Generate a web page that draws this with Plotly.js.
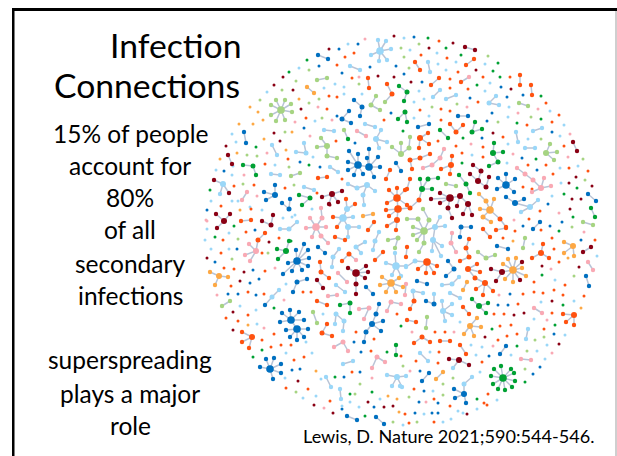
<!DOCTYPE html>
<html><head><meta charset="utf-8">
<script src="https://cdn.plot.ly/plotly-3.0.1.min.js"></script>
<style>html,body{margin:0;padding:0;background:#fff;overflow:hidden}</style>
</head><body><div id="chart" style="width:617px;height:456px"></div>
<script>
const blueClusters=[[318,55,328,59],[354,100,362,107],[362,107,360,116],[349,111,342,119],[342,119,351,123],[244,132,246,143],
[358,165,349,151,358,154,348,162,348,170,354,175,363,174,369,167],[369,167,369,149,367,158,378,157,380,167,374,177],
[275,195,275,185,264,192,266,200],[289,209,290,199,282,203],[396,163,401,171],[297,261,296,250,304,244,308,250,309,258,308,266,302,270,292,271,283,274,288,263],
[318,247,325,253],[307,279,297,282],[297,282,293,292],[291,320,290,310,282,313,280,322,299,312,304,320,297,329],[297,329,286,330,290,337,297,340,304,337,308,329],
[270,369,266,359,274,358,281,364,281,373,273,379,260,367],[366,287,373,294],[372,324,376,314,381,331,366,332,383,321],[376,314,379,304],[366,332,364,342],
[347,416,357,420],[376,417,384,424],[458,116,468,116],[418,127,429,124],[506,185,506,174,515,179,498,178,497,189,514,192],[515,203,506,197,524,199],[588,194,596,201],
[461,227,471,227,460,237],[540,222,533,229],[497,246,508,249],[586,276,589,286],[454,269,448,261,446,276],[417,281,427,284],[434,304,426,301],[506,346,500,354],[429,373,422,381],
[464,394,454,389,455,398,466,403],[265,305]];
const lightBlueClusters=[[380,51,378,40,386,41,391,49,387,60,379,61,371,55],[350,66,360,70],[365,124,375,127],[324,130,334,131],[376,139,381,130,379,148,387,142],
[296,152,306,153],[306,153,304,143],[272,145,277,155],[271,174,280,175],[330,167,338,172],[223,184,214,180,229,193,220,194],[304,187,314,190],[348,184,357,188],[357,188,367,185],
[367,185,375,191,363,195],[363,195,364,205],[343,218,353,217,347,209,348,227],[348,227,359,227,348,237],[289,229,297,222,280,229],[339,249,333,257],[333,257,332,267],[279,290,272,297],[272,297,265,305],
[336,314,335,324,344,321],[344,321,343,331],[336,285,345,292],[356,247,365,242,361,253],[379,232,375,241],[375,241,373,250],[396,266,386,263,395,253,406,266,401,276,392,275],[353,361,343,364],
[397,377,387,375,406,376,392,386,402,387],[326,377,331,387],[340,389,341,399],[428,62,430,72],[440,90,433,97],[456,95,446,99],[489,103,496,96,499,105],[516,132,518,142],[542,128,533,131],[525,148,535,148],
[530,207,538,200,521,212,515,203],[435,227,445,226,440,217,433,240],[433,240,432,251,442,246,441,256],[415,261,406,267,427,262],[452,284,459,277,442,285],[413,291,423,293,414,301],[434,294,434,304],[450,293,460,298],
[443,311,442,301,452,304,452,315,445,321],[528,329,526,339],[420,353,428,361],[453,368,459,360],[472,377,464,384],[464,384,464,394],[400,386]];
const orangeRedClusters=[[318,178,327,177],[368,78,369,88],[387,84,392,94],[392,94,385,102],[397,198,389,190,397,188,405,190,387,203,407,205,398,209],[398,209,386,210,389,216,397,220,410,208],[397,220,387,226,396,230],
[390,170,386,179],[241,221,251,220],[355,204,347,209],[346,199,347,209],[337,227,343,218],[333,217,343,218],[368,230,374,222],[335,237,345,240],[407,247,406,257],[258,240,265,233,256,251],[320,262,321,272],[321,272,329,278],
[317,301,327,305],[322,333,327,324,332,336],[252,337,242,332,242,342,249,348],[349,254,342,261,356,260],[383,252,375,260],[415,62,420,70],[474,59,466,65],[439,78,431,85],[461,82],[520,75,520,85],[531,85,532,95],
[456,132,450,124,463,125],[420,138,428,133,429,144,419,148],[420,158,410,160,430,154],[410,160,412,169],[451,165,452,156,441,169,450,174],[410,179,407,189],[410,208,419,200],[469,239,466,248],[466,248,469,257],[469,257,460,261],
[483,229,490,237],[496,230,506,228],[541,253,543,244,532,258,549,258],[427,262,418,269,426,273,434,273,437,266],[468,269,477,264,480,272,475,278],[475,278,485,283],[485,283,476,289,483,295,493,291],
[414,301,410,309],[463,307,469,314],[574,315,563,314,566,322,574,325],[407,320,416,322],[422,337,414,343,430,342],[440,341,450,341],[460,345,466,354],[500,219,506,227]];
const darkRedClusters=[[228,155,232,164],[224,221,216,214,230,214,217,228],[332,194,322,197,342,191,338,202,329,204],[262,221,271,225],[271,225,273,215],[214,180],[229,193],[317,280,323,288],
[356,273,348,268,366,266,368,272,365,278,356,284],[356,284,356,294],[465,47,475,50],[473,165,481,171],[481,171,478,181],[470,174,478,181],[478,181,486,187],[489,177,486,187],
[450,198,440,193,431,199,440,203,460,196,448,208],[460,196,468,204,457,206],[468,204,472,215,463,214],[448,208,452,218],[573,142,577,151],[591,247,583,252],[502,272,491,269,496,281,513,270],[522,262,513,270],[520,280],
[449,359,459,360],[459,360,469,365]];
const greenClusters=[[399,86,407,92],[407,92,404,101],[405,112,398,119,407,122],[348,139],[243,165,253,166],[253,166,256,175],[310,198,299,195,302,205],[286,251,289,241,277,249,278,259],[340,305,350,303],[350,303,350,313],
[396,345,396,355],[472,132,475,122,482,129],[440,130,448,138],[493,153,494,143,503,152,498,162],[498,162,489,166],[459,175,466,184],[466,184,470,193],[422,189,420,179,428,179,432,189,419,200],[428,179,438,178],
[591,208,595,217],[479,306,472,299,488,303,486,313],[503,378,494,369,501,366,511,369,514,373,515,381,512,387,505,390,498,389,493,384,491,376]];
const lightGreenClusters=[[281,110,276,100,285,100,291,104,292,112,285,120,276,121,271,115,271,105],[317,80,327,78],[371,105,380,110,376,96],[385,102],[344,130,348,139],[327,146,321,138,317,147,327,156],[327,156,337,158],
[401,154,401,143,392,147,409,148],[409,148,410,137],[300,173,291,176],[230,301,222,306],[313,312,317,323],[388,240,398,238],[398,238,395,248],[446,184,456,186],[546,153,550,144,557,152,554,160],[519,103,528,106],
[424,231,418,219,429,220,413,227,413,235,417,240,424,243,435,227],[418,219,407,219],[429,220,423,209],[424,243,419,252],[525,238,523,248],[478,252,486,258],[486,258,495,255],[583,222,593,225],[427,317,426,328]];
const pinkClusters=[[357,131,366,136],[247,192,242,200],[316,227,306,228,326,227,312,237,321,236,322,218,310,218],[322,218,321,208],[321,236,328,243],[356,260],[256,251,249,244,245,255,250,261],[328,296,337,295],[338,273,347,282],[359,309,369,308],[369,308,364,319],
[387,311,391,302],[391,302,401,304],[343,342,334,347,348,351],[377,357,372,368,385,362],[469,77,461,82],[432,165,440,158,423,168],[440,158,444,149],[541,188,533,180,544,178,551,186,532,192],[533,180,525,174],[525,174,517,168],
[452,233,451,243],[451,243,456,252],[588,262,593,270],[406,284,405,295],[534,308,542,313],[521,359,531,360]];
const lightOrangeClusters=[[307,87,314,93],[219,276,210,272,228,277,215,285],[391,283,382,277,380,285,386,292,396,292,403,287,399,278],[490,210,486,201,494,199,480,209,483,217,500,219],[479,194,486,201],[483,217,491,222],
[573,246,564,242,564,253,574,256],[513,270,508,259,516,258,522,268,526,276,520,280,513,282,505,279,503,264],[467,282,463,290],[470,326,477,318,481,327,474,336,464,334],[443,372,436,379],[363,216,373,214]];

// isolated people, x,y pairs
const blueDots=[358,44,339,49,319,66,396,66,370,67,342,73,404,74,391,113,304,128,355,143,224,171,300,162,320,167,207,210,337,116,
414,37,422,82,501,87,523,95,470,98,507,97,492,113,487,121,552,132,482,138,522,158,537,170,548,204,562,222,550,226,523,226,
255,230,237,249,215,262,253,270,250,283,259,279,228,294,238,294,256,295,292,370,300,369,344,377,360,372,361,352,354,342,342,409,374,407,
581,240,510,294,498,305,508,305,554,334,489,356,420,371,540,367,533,374,424,391,419,402,438,403,415,413,432,413,438,413];
const lightBlueDots=[348,44,299,68,324,88,335,84,344,87,267,92,344,94,362,94,315,121,232,134,236,142,313,157,275,165,216,170,233,166,232,175,211,201,232,201,238,201,250,207,292,217,262,210,283,218,207,229,229,233,295,215,312,209,297,222,
404,38,410,50,437,53,456,62,438,64,485,64,446,70,490,83,419,91,485,91,424,99,414,102,509,107,550,111,429,116,414,118,508,117,564,125,560,136,528,139,472,155,508,144,507,163,578,166,560,168,561,183,552,196,
205,240,211,249,229,249,286,284,256,310,240,306,257,324,306,342,286,353,312,353,323,314,285,378,321,379,303,398,316,396,342,406,350,402,359,407,380,399,403,425,
597,256,533,244,555,280,574,301,541,302,534,319,460,322,565,335,547,345,537,351,482,347,471,345,511,355,476,355,545,359,430,352,480,372,433,391,497,400,463,413,477,409,458,411,424,414,451,419,443,422];
const orangeRedDots=[354,53,345,57,337,65,352,78,337,97,329,96,327,109,306,118,384,120,336,141,288,159,265,164,234,186,254,185,285,188,342,179,221,206,317,193,251,209,
439,41,421,55,447,58,458,72,483,77,510,77,450,79,468,89,450,88,478,102,546,103,441,109,420,110,450,111,559,115,441,120,552,122,527,125,503,137,438,141,456,146,483,147,564,146,462,153,483,157,528,165,546,165,569,168,588,171,553,174,523,187,532,189,540,211,529,219,
223,240,246,232,279,238,221,253,262,253,234,269,224,268,265,271,231,286,248,292,264,294,303,292,311,292,248,315,226,318,238,321,274,334,262,340,271,347,281,345,291,345,294,360,304,357,352,372,371,351,401,356,374,339,397,314,356,332,308,389,286,388,330,401,
515,231,541,230,552,238,595,240,503,238,554,249,559,262,565,285,534,282,534,292,543,293,554,290,563,295,584,296,523,294,518,304,504,314,552,313,494,314,500,326,511,325,544,329,507,336,517,334,498,340,435,332,445,332,439,352,482,362,438,363,416,361,414,389,488,394,484,403,434,399,450,406,487,405,405,414,434,422,409,423];
const darkRedDots=[394,36,329,49,378,76,394,77,283,77,274,85,293,90,301,109,274,133,280,141,226,146,330,205,
429,48,453,43,476,70,411,82,511,89,493,133,576,177,569,183,592,186,572,199,581,199,570,209,
269,242,207,258,244,272,240,281,233,312,233,330,298,381,314,405,333,413,368,402,384,407,393,406,
542,266,579,267,552,301,514,315,524,313,485,337,559,344,467,414];
const greenDots=[307,60,289,72,403,131,256,147,309,165,210,190,234,226,291,241,428,38,446,48,461,55,498,63,493,71,500,77,477,85,541,96,541,119,517,123,463,138,462,163,536,159,577,188,564,194,573,217,
215,237,274,308,262,350,253,357,335,377,350,394,365,416,372,392,387,352,401,326,559,231,542,275,563,305,492,329,555,325,517,346,525,382,477,399];
const lightGreenDots=[401,48,404,57,309,70,359,84,296,81,282,90,260,100,319,99,309,103,322,118,285,132,247,155,257,156,289,167,243,184,294,185,
419,44,409,68,488,56,457,104,432,107,531,117,498,122,541,139,583,159,585,180,572,227,
238,239,268,253,232,259,296,392,355,394,360,384,393,422,574,276,544,337,535,340,527,351,403,366,453,378,443,384,525,369,409,397,443,395,417,422];
const pinkDots=[365,39,359,77,318,107,295,122,332,120,310,136,267,153,244,175,257,196,206,220,207,221,
467,107,538,109,518,113,570,134,471,144,513,154,568,157,559,213,514,220,
275,268,217,295,284,300,264,328,324,408,372,378,
584,232,551,269,499,295,547,320,412,332,454,332,493,346,552,353,410,371,426,402];
const lightOrangeDots=[299,99,250,107,258,112,263,120,239,124,253,124,292,132,264,139,286,150,237,153,220,159,240,210,568,258,581,308,388,396,397,399,399,412,316,371,248,325,513,241];

// text
const titleLines=["Infection","Connections"];
const bodyLines=["15% of people","account for","80%","of all","secondary","infections","superspreading","plays a major","role"];
const citation="Lewis, D. Nature 2021;590:544-546.";

const palette=[["#0070c0",blueClusters,blueDots],["#9ad7f8",lightBlueClusters,lightBlueDots],["#ff5210",orangeRedClusters,orangeRedDots],
["#8a0014",darkRedClusters,darkRedDots],["#00a133",greenClusters,greenDots],["#a6d482",lightGreenClusters,lightGreenDots],
["#f9a9b4",pinkClusters,pinkDots],["#fda844",lightOrangeClusters,lightOrangeDots]];

const degree={},color={},linkX=[],linkY=[];
const key=(x,y)=>x+","+y;
palette.forEach(([c,clusters])=>clusters.forEach(s=>{const k=key(s[0],s[1]);if(!color[k])color[k]=c;}));
palette.forEach(([c,clusters])=>clusters.forEach(s=>{
  for(let i=2;i<s.length;i+=2){
    const k=key(s[i],s[i+1]),h=key(s[0],s[1]);
    if(!color[k])color[k]=c;
    degree[k]=(degree[k]||0)+1;degree[h]=(degree[h]||0)+1;
    linkX.push(s[0],s[i],null);linkY.push(s[1],s[i+1],null);
  }
}));
const sizeFor=d=>d>=5?7.6:d>=3?6:d===2?5:4.4;
const traces=[{type:"scatter",mode:"lines",x:linkX,y:linkY,line:{color:"#b9c4d6",width:1.5},hoverinfo:"skip",showlegend:false}];
palette.forEach(([c,clusters,dots])=>{
  const x=[],y=[],s=[];
  for(let i=0;i<dots.length;i+=2){x.push(dots[i]);y.push(dots[i+1]);s.push(3);}
  Object.keys(color).filter(k=>color[k]===c).forEach(k=>{const p=k.split(",").map(Number);x.push(p[0]);y.push(p[1]);s.push(sizeFor(degree[k]||0));});
  traces.push({type:"scatter",mode:"markers",x,y,marker:{color:c,size:s,opacity:1,line:{width:0}},hoverinfo:"skip",showlegend:false});
});

const FONT="Lato, Carlito, Calibri, sans-serif";
const note=(text,x,y,size)=>({text,x,y,xref:"x",yref:"y",xanchor:"center",yanchor:"middle",showarrow:false,font:{family:FONT,size,color:"#000"}});
const titlePos=[[175,45],[147,85]];
const bodyY=[133,165,197,229,263,295,359,393,425];
const annotations=[
  ...titleLines.map((t,i)=>note(t,titlePos[i][0],titlePos[i][1],33.7)),
  ...bodyLines.map((t,i)=>note(t,130,bodyY[i],24.5)),
  note(citation,449,436,18.1)
];
const shapes=[
  {type:"rect",xref:"x",yref:"y",x0:12,x1:617,y0:8,y1:11,fillcolor:"#000",line:{width:0}},
  {type:"rect",xref:"x",yref:"y",x0:12,x1:14.5,y0:8,y1:456,fillcolor:"#000",line:{width:0}},
  {type:"rect",xref:"x",yref:"y",x0:615.5,x1:616.5,y0:11,y1:456,fillcolor:"#a0a0a0",line:{width:0}}
];
Plotly.newPlot("chart",traces,{
  width:617,height:456,margin:{l:0,r:0,t:0,b:0},paper_bgcolor:"#fff",plot_bgcolor:"#fff",showlegend:false,
  xaxis:{range:[0,617],visible:false,fixedrange:true},
  yaxis:{range:[456,0],visible:false,fixedrange:true},
  annotations,shapes
},{staticPlot:true,displayModeBar:false});
</script></body></html>
